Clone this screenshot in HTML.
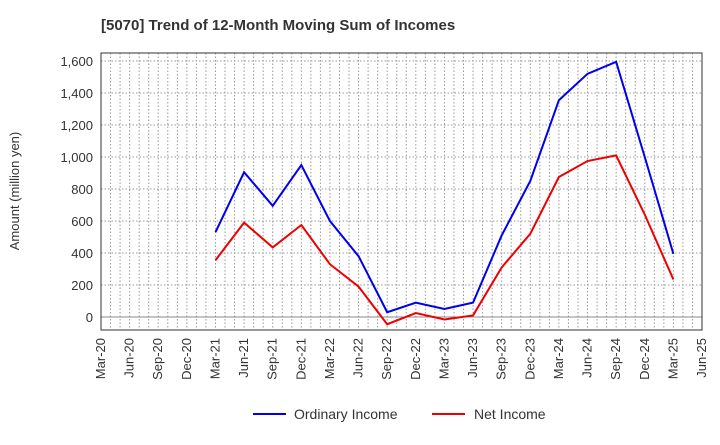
<!DOCTYPE html>
<html><head><meta charset="utf-8"><style>
body{margin:0;background:#fff;font-family:"Liberation Sans",sans-serif;}
</style></head><body>
<svg id="chart" width="720" height="440" xmlns="http://www.w3.org/2000/svg" font-family="Liberation Sans, sans-serif">
<text x="101" y="30" font-size="15" font-weight="bold" fill="#333">[5070]  Trend of 12-Month Moving Sum of Incomes</text>
<text transform="translate(19,191) rotate(-90)" text-anchor="middle" font-size="13" fill="#333">Amount (million yen)</text>
<g id="grid"></g><g id="axes"></g><g id="series"></g>
<g>
<line x1="253" y1="414" x2="286" y2="414" stroke="#0000ee" stroke-width="2"/>
<text x="294" y="419" font-size="14" fill="#333">Ordinary Income</text>
<line x1="432" y1="414" x2="465" y2="414" stroke="#ee0000" stroke-width="2"/>
<text x="474" y="419" font-size="14" fill="#333">Net Income</text>
</g>
</svg>
<script>
const xLabels=["Mar-20","Jun-20","Sep-20","Dec-20","Mar-21","Jun-21","Sep-21","Dec-21","Mar-22","Jun-22","Sep-22","Dec-22","Mar-23","Jun-23","Sep-23","Dec-23","Mar-24","Jun-24","Sep-24","Dec-24","Mar-25","Jun-25"];
const yTicks=[0,200,400,600,800,1000,1200,1400,1600];
const ordinary=[null,null,null,null,530,905,695,950,600,380,30,90,50,90,510,850,1355,1520,1595,1000,395];
const net=[null,null,null,null,355,590,435,575,330,190,-45,25,-15,10,310,520,875,975,1010,640,235];
const L=101,R=702,T=53,B=330,ymin=-81,ymax=1650;
const xs=i=>L+(R-L)*i/(xLabels.length-1);
const ys=v=>B-(v-ymin)/(ymax-ymin)*(B-T);
const NS="http://www.w3.org/2000/svg";
function mk(tag,attrs,parent){const e=document.createElementNS(NS,tag);for(const k in attrs)e.setAttribute(k,attrs[k]);parent.appendChild(e);return e;}
const grid=document.getElementById('grid'),axes=document.getElementById('axes'),series=document.getElementById('series');
for(let m=1;m<(xLabels.length-1)*3;m++){const x=L+(R-L)*m/((xLabels.length-1)*3);
const g=mk('line',{x1:x,x2:x,y1:T,y2:B,stroke:'#999','stroke-dasharray':'1.5,2','stroke-width':1},grid);

}
yTicks.forEach(v=>{const y=ys(v);
const g=mk('line',{x1:L,x2:R,y1:y,y2:y,stroke:v===0?'#888':'#999','stroke-dasharray':v===0?'none':'1.5,2','stroke-width':1},grid);


const t=mk('text',{x:L-8,y:y+5,'text-anchor':'end','font-size':13,fill:'#333'},axes);t.textContent=v.toLocaleString('en-US');

});
xLabels.forEach((s,i)=>{const x=xs(i);
const t=mk('text',{transform:`translate(${x+4},${B+8}) rotate(-90)`,'text-anchor':'end','font-size':13,fill:'#333'},axes);t.textContent=s;

});
const frame=mk('rect',{x:L,y:T,width:R-L,height:B-T,fill:'none',stroke:'#333','stroke-width':1},axes);


function line(data,color,name){let d='';data.forEach((v,i)=>{if(v==null)return;d+=(d?'L':'M')+xs(i)+','+ys(v);});
const p=mk('path',{d:d,fill:'none',stroke:color,'stroke-width':2},series);

}
line(ordinary,'#0000ee','ordinary-income-line');
line(net,'#ee0000','net-income-line');
</script>
</body></html>
